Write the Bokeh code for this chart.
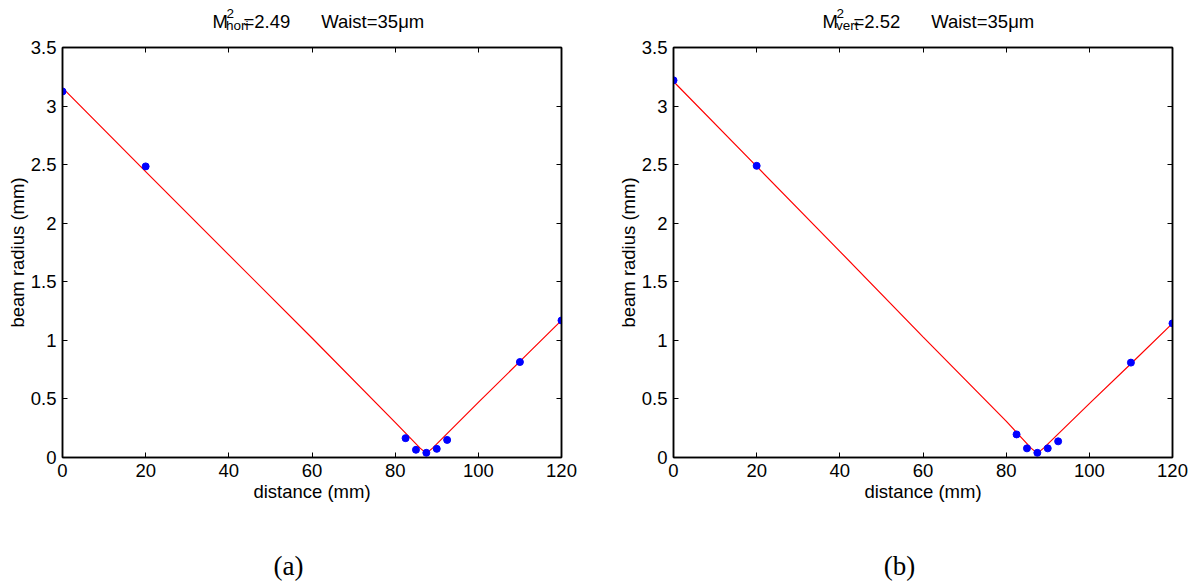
from bokeh.plotting import figure
from bokeh.layouts import row, column
from bokeh.models import LinearAxis, FixedTicker, CustomJSTickFormatter, Range1d
from bokeh.core.properties import value
from bokeh.embed import file_html
from bokeh.resources import INLINE

# ---- data ----
distance = [0, 20, 82.5, 85, 87.5, 90, 92.5, 110, 120]
radius_hori = [3.125, 2.485, 0.165, 0.066, 0.040, 0.074, 0.150, 0.815, 1.170]
radius_vert = [3.220, 2.490, 0.197, 0.078, 0.040, 0.078, 0.138, 0.810, 1.145]

fit_distance = [0, 20, 40, 60, 80, 86, 87.5, 89, 100, 110, 120]
fit_hori = [3.155, 2.44, 1.73, 1.02, 0.30, 0.08, 0.035, 0.08, 0.47, 0.82, 1.17]
fit_vert = [3.210, 2.485, 1.76, 1.03, 0.31, 0.08, 0.035, 0.08, 0.46, 0.80, 1.145]

x_ticks = [0, 20, 40, 60, 80, 100, 120]
y_ticks = [0, 0.5, 1, 1.5, 2, 2.5, 3, 3.5]

subscripts = ["hori", "vert"]
m2_values = ["=2.49", "=2.52"]
waist_texts = ["Waist=35\u03bcm", "Waist=35\u03bcm"]
panel_labels = ["(a)", "(b)"]

FONT = "Liberation Sans"
FS = "18.5px"
TITLE_FS = "18.5px"
SMALL_FS = "13.5px"
TITLE_H = 35
TOP_B = 47 - TITLE_H
BOTTOM_B = 66


def style_axis(ax, ticks, labels=True):
    ax.ticker = FixedTicker(ticks=ticks)
    ax.major_tick_in = 5
    ax.major_tick_out = 0
    ax.minor_tick_line_color = None
    ax.axis_line_color = "black"
    ax.axis_line_width = 1.5
    ax.major_tick_line_color = "black"
    ax.major_tick_line_width = 1
    ax.major_label_text_font = FONT
    if labels:
        ax.major_label_text_font_size = FS
        ax.major_label_text_color = "black"
        ax.major_label_standoff = 6
        ax.formatter = CustomJSTickFormatter(code="return String(Math.round(tick*10)/10);")
    else:
        ax.major_label_text_font_size = "0px"
        ax.major_label_text_color = None
        ax.major_label_standoff = 0


def make_panel(radius, fit, border_left, border_right):
    p = figure(frame_width=499, frame_height=410,
               min_border_left=border_left, min_border_right=border_right,
               min_border_top=TOP_B, min_border_bottom=BOTTOM_B,
               x_range=Range1d(0, 120), y_range=Range1d(0, 3.5),
               output_backend="svg", toolbar_location=None,
               background_fill_color="white", border_fill_color="white")
    p.title = None
    p.xgrid.visible = False
    p.ygrid.visible = False
    p.outline_line_color = "black"
    p.outline_line_width = 1.5

    style_axis(p.xaxis[0], x_ticks)
    style_axis(p.yaxis[0], y_ticks)
    p.xaxis[0].axis_label = "distance (mm)"
    p.yaxis[0].axis_label = "beam radius (mm)"
    for ax in (p.xaxis[0], p.yaxis[0]):
        ax.axis_label_text_font = FONT
        ax.axis_label_text_font_size = FS
        ax.axis_label_text_font_style = "normal"
        ax.axis_label_text_color = "black"
    p.xaxis[0].axis_label_standoff = 1
    p.yaxis[0].axis_label_standoff = 0

    top = LinearAxis()
    style_axis(top, x_ticks, labels=False)
    p.add_layout(top, "above")
    right = LinearAxis()
    style_axis(right, y_ticks, labels=False)
    p.add_layout(right, "right")

    p.line(fit_distance, fit, line_color="#ff0000", line_width=1.2)
    p.scatter(distance, radius, size=7, fill_color="#0000ff", line_color="#0000ff")
    return p


def text_strip(height, y_top):
    f = figure(frame_width=1198, frame_height=height, x_range=Range1d(0, 1198),
               y_range=Range1d(y_top + height, y_top),
               x_axis_type=None, y_axis_type=None, min_border=0,
               output_backend="svg", toolbar_location=None,
               background_fill_color="white", border_fill_color="white")
    f.title = None
    f.grid.visible = False
    f.outline_line_color = None
    return f


# title strip (page y 0..TITLE_H)
title = text_strip(TITLE_H, 0)
for i, xo in enumerate([0, 610]):
    title.text(x=[212 + xo], y=[21], text=["M"], text_font=value(FONT),
               text_font_size=value(TITLE_FS), text_baseline="alphabetic", text_color="black")
    title.text(x=[226 + xo], y=[12.5], text=["2"], text_font=value(FONT),
               text_font_size=value(SMALL_FS), text_baseline="alphabetic", text_color="black")
    title.text(x=[225.5 + xo], y=[25], text=[subscripts[i]], text_font=value(FONT),
               text_font_size=value(SMALL_FS), text_baseline="alphabetic", text_color="black")
    title.text(x=[243 + xo], y=[21], text=[m2_values[i]], text_font=value(FONT),
               text_font_size=value(TITLE_FS), text_baseline="alphabetic", text_color="black")
    title.text(x=[320.7 + xo], y=[21], text=[waist_texts[i]], text_font=value(FONT),
               text_font_size=value(TITLE_FS), text_baseline="alphabetic", text_color="black")

left = make_panel(radius_hori, fit_hori, 62, 38)
right = make_panel(radius_vert, fit_vert, 74, 26)

# caption strip (rest of the page)
cap_top = 47 + 410 + BOTTOM_B
caption = text_strip(581 - cap_top, cap_top)
caption.text(x=[288, 899], y=[565, 565], text=panel_labels, text_font=value("Liberation Serif"),
             text_font_size=value("27px"), text_baseline="alphabetic", text_align="center",
             text_color="black")

layout = column(title, row(left, right, spacing=0), caption, spacing=0)

open("out.html", "w").write(file_html(layout, INLINE))
